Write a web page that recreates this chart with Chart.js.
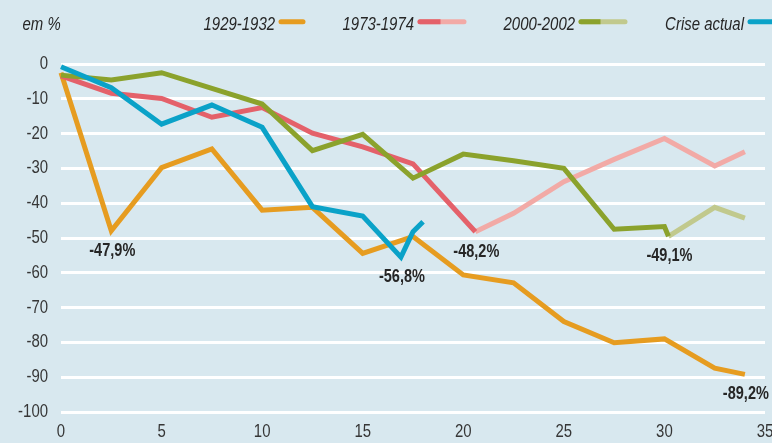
<!DOCTYPE html>
<html>
<head>
<meta charset="utf-8">
<script src="https://cdn.jsdelivr.net/npm/chart.js@4/dist/chart.umd.min.js"></script>
<style>
  html, body { margin: 0; padding: 0; background: #d8e8ef; }
  #wrap { width: 772px; height: 443px; }
  canvas { display: block; }
</style>
</head>
<body>
<div id="wrap"><canvas id="c" width="772" height="443"></canvas></div>
<script>
// ---------- DATA ----------
const seriesNames = ['1929-1932', '1973-1974', '2000-2002', 'Crise actual'];
const unitLabel = 'em %';

const xTicks = [0, 5, 10, 15, 20, 25, 30, 35];
const yTicks = [0, -10, -20, -30, -40, -50, -60, -70, -80, -90, -100];

// 1929-1932
const x1929 = [0, 2.5, 5, 7.5, 10, 12.5, 15, 17.5, 20, 22.5, 25, 27.5, 30, 32.5, 34];
const y1929 = [-2.5, -47.9, -29.8, -24.4, -42.0, -41.2, -54.4, -49.6, -60.6, -62.9, -74.0, -80.1, -79.0, -87.4, -89.2];

// 1973-1974 (fall, then recovery)
const x1973Fall = [0, 2.5, 5, 7.5, 10, 12.5, 15, 17.5, 20.6];
const y1973Fall = [-3.4, -8.4, -9.9, -15.3, -12.5, -19.9, -23.8, -28.7, -48.2];
const x1973Rec = [20.6, 22.5, 25, 27.5, 30, 32.5, 34];
const y1973Rec = [-48.2, -42.9, -33.8, -27.4, -21.4, -29.3, -25.2];

// 2000-2002 (fall, then recovery)
const x2000Fall = [0, 2.5, 5, 7.5, 10, 12.5, 15, 17.5, 20, 22.5, 25, 27.5, 30, 30.2];
const y2000Fall = [-3.2, -4.6, -2.5, -7.0, -11.5, -24.9, -20.2, -32.8, -25.9, -27.8, -30.0, -47.5, -46.7, -49.5];
const x2000Rec = [30.2, 32.5, 34];
const y2000Rec = [-49.5, -41.2, -44.3];

// Crise actual
const xActual = [0, 2.5, 5, 7.5, 10, 12.5, 15, 16.9, 17.5, 18];
const yActual = [-0.8, -6.8, -17.3, -11.8, -18.2, -41.0, -43.7, -55.5, -48.2, -45.3];

// Trough labels: [dataset key, point index, text]
const troughLabels = [
  ['orange', 1, '-47,9%'],
  ['blue', 7, '-56,8%'],
  ['red', 8, '-48,2%'],
  ['green', 13, '-49,1%'],
  ['orange', 14, '-89,2%']
];

// ---------- STYLE ----------
const COL = {
  orange: '#e69c20',
  red: '#e4616a',
  pink: '#f2aaa6',
  green: '#8ba22c',
  lightgreen: '#c1c98d',
  blue: '#0aa2c8',
  grid: '#ffffff',
  tick: '#363636',
  text: '#262626'
};
const FONT = "'Liberation Sans', Arial, sans-serif";
const TEXT_SCALE_X = 0.83; // condensed look of the original typeface

// Draw all canvas text horizontally condensed
(function () {
  const proto = CanvasRenderingContext2D.prototype;
  const orig = proto.fillText;
  proto.fillText = function (text, x, y, maxWidth) {
    this.save();
    this.translate(x, y);
    this.scale(TEXT_SCALE_X, 1);
    orig.call(this, text, 0, 0);
    this.restore();
  };
})();

const pts = (xs, ys) => xs.map((x, i) => ({ x: x, y: ys[i] }));

function ds(key, label, xs, ys, color, order) {
  return {
    key: key, label: label, data: pts(xs, ys),
    borderColor: color, backgroundColor: color,
    borderWidth: 5, pointRadius: 0, pointHoverRadius: 0,
    tension: 0, fill: false, clip: false, order: order
  };
}

const datasets = [
  ds('blue', seriesNames[3], xActual, yActual, COL.blue, 1),
  ds('green', seriesNames[2], x2000Fall, y2000Fall, COL.green, 2),
  ds('greenRec', seriesNames[2], x2000Rec, y2000Rec, COL.lightgreen, 3),
  ds('red', seriesNames[1], x1973Fall, y1973Fall, COL.red, 4),
  ds('redRec', seriesNames[1], x1973Rec, y1973Rec, COL.pink, 5),
  ds('orange', seriesNames[0], x1929, y1929, COL.orange, 6)
];

// ---------- PLUGINS ----------
const legendPlugin = {
  id: 'customLegend',
  afterDraw(chart) {
    const ctx = chart.ctx;
    ctx.save();
    ctx.font = 'italic 18px ' + FONT;
    ctx.fillStyle = COL.text;
    ctx.textBaseline = 'alphabetic';
    ctx.textAlign = 'left';
    ctx.fillText(unitLabel, 22.5, 29.5);

    const items = [
      { name: seriesNames[0], end: 275, w: 27, c1: COL.orange, c2: null, split: 0 },
      { name: seriesNames[1], end: 414, w: 49, c1: COL.red, c2: COL.pink, split: 23 },
      { name: seriesNames[2], end: 575, w: 49, c1: COL.green, c2: COL.lightgreen, split: 22 },
      { name: seriesNames[3], end: 744, w: 30, c1: COL.blue, c2: null, split: 0 }
    ];
    const sy = 21.8;
    items.forEach(it => {
      ctx.textAlign = 'right';
      ctx.fillStyle = COL.text;
      ctx.fillText(it.name, it.end, 29.5);
      const sx = it.end + 3.5;
      ctx.lineWidth = 5;
      ctx.lineCap = 'round';
      if (it.c2) {
        ctx.strokeStyle = it.c2;
        ctx.beginPath(); ctx.moveTo(sx + 2.5, sy); ctx.lineTo(sx + it.w - 2.5, sy); ctx.stroke();
        ctx.save();
        ctx.beginPath(); ctx.rect(sx - 5, sy - 5, it.split + 5, 10); ctx.clip();
        ctx.strokeStyle = it.c1;
        ctx.beginPath(); ctx.moveTo(sx + 2.5, sy); ctx.lineTo(sx + it.w - 2.5, sy); ctx.stroke();
        ctx.restore();
      } else {
        ctx.strokeStyle = it.c1;
        ctx.beginPath(); ctx.moveTo(sx + 2.5, sy); ctx.lineTo(sx + it.w - 2.5, sy); ctx.stroke();
      }
    });
    ctx.restore();
  }
};

const labelPlugin = {
  id: 'troughLabels',
  afterDatasetsDraw(chart) {
    const ctx = chart.ctx;
    const xs = chart.scales.x, ys = chart.scales.y;
    ctx.save();
    ctx.font = 'bold 17.5px ' + FONT;
    ctx.fillStyle = COL.text;
    ctx.textAlign = 'center';
    ctx.textBaseline = 'middle';
    troughLabels.forEach(([key, idx, text]) => {
      const d = chart.data.datasets.find(s => s.key === key);
      const p = d.data[idx];
      const px = xs.getPixelForValue(p.x) + 1;
      const py = ys.getPixelForValue(p.y) + 20;
      ctx.fillText(text, px, py);
    });
    ctx.restore();
  }
};

// ---------- CHART ----------
Chart.defaults.font.family = FONT;
Chart.defaults.font.size = 18;
Chart.defaults.color = COL.tick;

new Chart(document.getElementById('c'), {
  type: 'line',
  data: { datasets: datasets },
  options: {
    responsive: false,
    devicePixelRatio: 1,
    animation: false,
    events: [],
    layout: { padding: { top: 64, right: 7, left: 0, bottom: 0 } },
    plugins: { legend: { display: false }, tooltip: { enabled: false } },
    scales: {
      x: {
        type: 'linear', min: 0, max: 35,
        afterBuildTicks: s => { s.ticks = xTicks.map(v => ({ value: v })); },
        ticks: { padding: 9, maxRotation: 0, autoSkip: false, color: COL.tick, font: { size: 18 } },
        grid: { display: false, drawTicks: false },
        border: { display: false },
        afterFit: s => { s.height = 31; s.paddingLeft = 0; s.paddingRight = 0; }
      },
      y: {
        type: 'linear', min: -100, max: 0,
        afterBuildTicks: s => { s.ticks = yTicks.map(v => ({ value: v })); },
        ticks: { padding: 13, color: COL.tick, font: { size: 18 } },
        grid: { color: COL.grid, lineWidth: 3, drawTicks: false },
        border: { display: false },
        afterFit: s => { s.width = 61; }
      }
    }
  },
  plugins: [legendPlugin, labelPlugin]
});
</script>
</body>
</html>
